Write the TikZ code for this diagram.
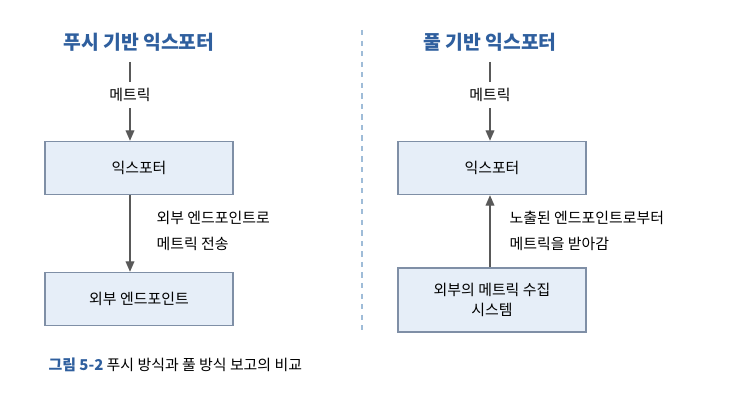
\documentclass[tikz,border=0pt]{standalone}
\usepackage{fontspec}
\setmainfont{Noto Sans CJK KR}
\usetikzlibrary{arrows.meta}
\definecolor{titleblue}{HTML}{2F5F9E}
\definecolor{boxfill}{HTML}{E6EEF8}
\definecolor{boxline}{HTML}{7F8FA6}
\definecolor{sepline}{HTML}{9FBCD8}
\begin{document}
\begin{tikzpicture}[x = 0.02cm, y = -0.02cm, % pixel grid
                > = {Triangle[width=5pt,length=6pt]},
                font = \fontsize{8.5pt}{11pt}\selectfont,
                thick
            ]

            \tikzset{stagebox/.style = {draw = boxline, fill = boxfill,
            minimum width = 3.76cm, minimum height = 1.06cm, align = center},
            headline/.style = {text = titleblue, font = \fontsize{11pt}{13pt}\selectfont\bfseries},
            flow/.style = {draw = black!65, ->},
            note/.style = {align = left, anchor = west, font = \fontsize{8.5pt}{15pt}\selectfont}}

            \useasboundingbox (0,0) rectangle (750,404);

            % push side
            \node (pushtitle) [headline] at (139,42) {푸시 기반 익스포터};
            \coordinate (pushtop) at (130,62);
            \node (pushmetric) at (130,95) {메트릭};
            \node (pushexp) [stagebox] at (139,168) {익스포터};
            \node (pushext) [stagebox] at (139,299) {외부 엔드포인트};
            \node (pushnote) [note] at (150,231) {외부 엔드포인트로\\메트릭 전송};

            \draw[draw = black!65] (pushtop) -- (pushmetric);
            \draw[flow] (pushmetric) -- (pushmetric |- pushexp.north);
            \draw[flow] (pushmetric |- pushexp.south) -- (pushmetric |- pushext.north);

            % separator
            \coordinate (septop) at (362,30); \coordinate (sepbot) at (362,330);
            \draw[sepline, dashed, semithick] (septop) -- (sepbot);

            % pull side
            \node (pulltitle) [headline] at (490,42) {풀 기반 익스포터};
            \coordinate (pulltop) at (490,62);
            \node (pullmetric) at (490,95) {메트릭};
            \node (pullexp) [stagebox] at (492,168) {익스포터};
            \node (pullsys) [stagebox, minimum height = 1.28cm] at (492,300)
            {외부의 메트릭 수집\\시스템};
            \node (pullnote) [note] at (503,231) {노출된 엔드포인트로부터\\메트릭을 받아감};

            \draw[draw = black!65] (pulltop) -- (pullmetric);
            \draw[flow] (pullmetric) -- (pullmetric |- pullexp.north);
            \draw[flow] (pullmetric |- pullsys.north) -- (pullmetric |- pullexp.south);

            % caption
            \node (caption) [anchor = west] at (42,365) {{\color{titleblue}\bfseries 그림 5-2} 푸시 방식과 풀 방식 보고의 비교};

        \end{tikzpicture}
\end{document}
